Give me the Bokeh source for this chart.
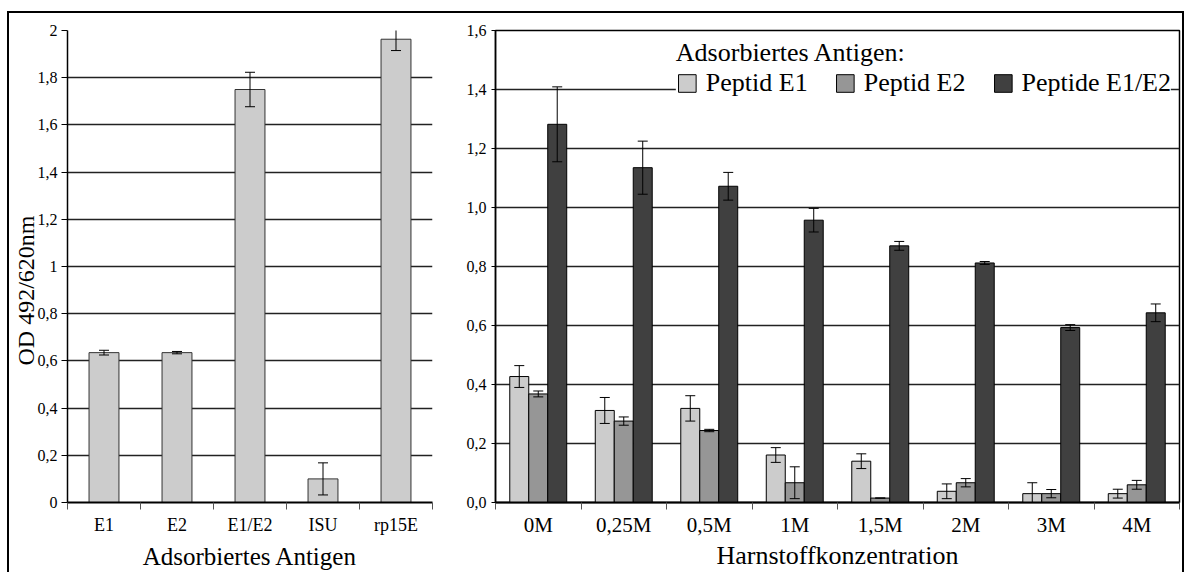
from bokeh.plotting import figure
from bokeh.models import (Range1d, FixedTicker, ColumnDataSource, Whisker, Legend,
                          LegendItem, TeeHead)
from bokeh.layouts import row
from bokeh.transform import dodge
from bokeh.embed import file_html
from bokeh.resources import INLINE

# ---------------- data ----------------
antigens = ["E1", "E2", "E1/E2", "ISU", "rp15E"]
antigen_od = [0.635, 0.635, 1.750, 0.100, 1.963]
antigen_err = [0.010, 0.005, 0.073, 0.068, 0.048]

urea = ["0M", "0,25M", "0,5M", "1M", "1,5M", "2M", "3M", "4M"]
pep_e1 = [0.427, 0.312, 0.319, 0.161, 0.140, 0.038, 0.030, 0.030]
pep_e1_err = [0.037, 0.044, 0.043, 0.025, 0.025, 0.025, 0.037, 0.015]
pep_e2 = [0.368, 0.276, 0.244, 0.067, 0.015, 0.067, 0.030, 0.060]
pep_e2_err = [0.010, 0.014, 0.004, 0.054, 0.000, 0.014, 0.014, 0.015]
pep_e12 = [1.282, 1.135, 1.072, 0.957, 0.870, 0.812, 0.593, 0.643]
pep_e12_err = [0.127, 0.090, 0.047, 0.040, 0.015, 0.005, 0.010, 0.030]

series_names = ["Peptid E1", "Peptid E2", "Peptide E1/E2"]
legend_title = "Adsorbiertes Antigen:"
y_label = "OD 492/620nm"

left_ticks = [0, 0.2, 0.4, 0.6, 0.8, 1, 1.2, 1.4, 1.6, 1.8, 2]
left_tick_labels = ["0", "0,2", "0,4", "0,6", "0,8", "1", "1,2", "1,4", "1,6", "1,8", "2"]
right_ticks = [0, 0.2, 0.4, 0.6, 0.8, 1.0, 1.2, 1.4, 1.6]
right_tick_labels = ["0,0", "0,2", "0,4", "0,6", "0,8", "1,0", "1,2", "1,4", "1,6"]

SERIF = "Liberation Serif"
NARROW = "Liberation Sans Narrow"

LIGHT = "#CCCCCC"
MID = "#969696"
DARK = "#404040"

# ---------------- left panel ----------------
n1 = len(antigens)
x1 = [i + 0.5 for i in range(n1)]
src1 = ColumnDataSource(dict(
    x=x1, od=antigen_od,
    upper=[v + e for v, e in zip(antigen_od, antigen_err)],
    lower=[v - e for v, e in zip(antigen_od, antigen_err)],
))

p1 = figure(width=431, height=559, x_range=Range1d(0, n1), y_range=Range1d(0, 2),
            output_backend="svg", toolbar_location=None,
            min_border_left=55, min_border_right=8, min_border_top=17, min_border_bottom=68)
p1.outline_line_color = None
p1.background_fill_color = "white"

p1.vbar(x="x", top="od", width=0.41, source=src1, fill_color=LIGHT,
        line_color="#333333", line_width=1)
w1 = Whisker(base="x", upper="upper", lower="lower", source=src1, level="overlay",
             line_color="black", line_width=1,
             upper_head=TeeHead(size=10, line_color="black", line_width=1),
             lower_head=TeeHead(size=10, line_color="black", line_width=1))
p1.add_layout(w1)

t1 = FixedTicker(ticks=x1, minor_ticks=list(range(n1 + 1)))
p1.xaxis.ticker = t1
p1.xaxis.major_label_overrides = {x: lab for x, lab in zip(x1, antigens)}
p1.xaxis.major_tick_line_color = None
p1.xaxis.major_tick_out = 7
p1.xaxis.major_tick_in = 0
p1.xaxis.minor_tick_out = 7
p1.xaxis.minor_tick_in = 0
p1.xaxis.minor_tick_line_color = "#555555"
p1.xaxis.axis_line_color = "black"
p1.xaxis.axis_line_width = 2
p1.xaxis.major_label_standoff = 5
p1.xaxis.major_label_text_font = SERIF
p1.xaxis.major_label_text_font_size = "18px"
p1.xaxis.major_label_text_color = "black"
p1.xaxis.axis_label = "Adsorbiertes Antigen"
p1.xaxis.axis_label_text_font = SERIF
p1.xaxis.axis_label_text_font_size = "25px"
p1.xaxis.axis_label_text_font_style = "normal"
p1.xaxis.axis_label_text_color = "black"
p1.xaxis.axis_label_standoff = 5
p1.xgrid.visible = False

yt1 = FixedTicker(ticks=left_ticks, minor_ticks=[])
p1.yaxis.ticker = yt1
p1.yaxis.major_label_overrides = {t: lab for t, lab in zip(left_ticks, left_tick_labels)}
p1.yaxis.major_tick_out = 6
p1.yaxis.major_tick_in = 0
p1.yaxis.minor_tick_line_color = None
p1.yaxis.axis_line_color = "black"
p1.yaxis.axis_line_width = 1.5
p1.yaxis.major_label_standoff = 4
p1.yaxis.major_label_text_font = SERIF
p1.yaxis.major_label_text_font_size = "16px"
p1.yaxis.major_label_text_color = "black"
# trailing no-break spaces move the centred label towards the bottom, as in the original
p1.yaxis.axis_label = y_label + "\u00a0" * 8
p1.yaxis.axis_label_text_font = SERIF
p1.yaxis.axis_label_text_font_size = "24px"
p1.yaxis.axis_label_text_font_style = "normal"
p1.yaxis.axis_label_text_color = "black"
p1.yaxis.axis_label_standoff = -4
p1.ygrid.ticker = yt1
p1.ygrid.grid_line_color = "#222222"
p1.ygrid.grid_line_width = 1.5

# ---------------- right panel ----------------
n2 = len(urea)
x2 = [i + 0.5 for i in range(n2)]
src2 = ColumnDataSource(dict(
    x=x2, e1=pep_e1, e2=pep_e2, e12=pep_e12,
    e1_up=[v + e for v, e in zip(pep_e1, pep_e1_err)],
    e1_lo=[v - e for v, e in zip(pep_e1, pep_e1_err)],
    e2_up=[v + e for v, e in zip(pep_e2, pep_e2_err)],
    e2_lo=[v - e for v, e in zip(pep_e2, pep_e2_err)],
    e12_up=[v + e for v, e in zip(pep_e12, pep_e12_err)],
    e12_lo=[v - e for v, e in zip(pep_e12, pep_e12_err)],
))

p2 = figure(width=742, height=559, x_range=Range1d(0, n2), y_range=Range1d(0, 1.6),
            output_backend="svg", toolbar_location=None,
            min_border_left=55, min_border_right=3, min_border_top=17, min_border_bottom=68)
p2.outline_line_color = "black"
p2.outline_line_width = 1.5

BW = 0.222
cols = [("e1", LIGHT, -BW), ("e2", MID, 0.0), ("e12", DARK, BW)]
bar_renderers = []
for key, color, off in cols:
    r = p2.vbar(x=dodge("x", off), top=key, width=BW, source=src2,
                fill_color=color, line_color="black", line_width=1)
    bar_renderers.append(r)
for key, color, off in cols:
    w = Whisker(base=dodge("x", off), upper=key + "_up", lower=key + "_lo", source=src2,
                level="overlay", line_color="black", line_width=1,
                upper_head=TeeHead(size=10, line_color="black", line_width=1),
                lower_head=TeeHead(size=10, line_color="black", line_width=1))
    p2.add_layout(w)

items = [LegendItem(label=name, renderers=[r]) for name, r in zip(series_names, bar_renderers)]
legend = Legend(items=items, orientation="horizontal", location="top_right",
                title=legend_title, title_text_font=SERIF, title_text_font_size="26px",
                title_text_font_style="normal", title_text_color="black", title_standoff=0,
                label_text_font=SERIF, label_text_font_size="26px", label_text_color="black",
                glyph_width=22, glyph_height=22, label_standoff=8, spacing=26,
                padding=15, margin=8, border_line_color=None,
                background_fill_color="white", background_fill_alpha=1.0)
p2.add_layout(legend)

t2 = FixedTicker(ticks=x2, minor_ticks=list(range(n2 + 1)))
p2.xaxis.ticker = t2
p2.xaxis.major_label_overrides = {x: lab for x, lab in zip(x2, urea)}
p2.xaxis.major_tick_line_color = None
p2.xaxis.major_tick_out = 7
p2.xaxis.major_tick_in = 0
p2.xaxis.minor_tick_out = 7
p2.xaxis.minor_tick_in = 0
p2.xaxis.minor_tick_line_color = "#555555"
p2.xaxis.axis_line_color = "black"
p2.xaxis.axis_line_width = 2
p2.xaxis.major_label_standoff = 3
p2.xaxis.major_label_text_font = SERIF
p2.xaxis.major_label_text_font_size = "21px"
p2.xaxis.major_label_text_color = "black"
p2.xaxis.axis_label = "Harnstoffkonzentration"
p2.xaxis.axis_label_text_font = SERIF
p2.xaxis.axis_label_text_font_size = "26px"
p2.xaxis.axis_label_text_font_style = "normal"
p2.xaxis.axis_label_text_color = "black"
p2.xaxis.axis_label_standoff = 1
p2.xgrid.visible = False

yt2 = FixedTicker(ticks=right_ticks, minor_ticks=[])
p2.yaxis.ticker = yt2
p2.yaxis.major_label_overrides = {t: lab for t, lab in zip(right_ticks, right_tick_labels)}
p2.yaxis.major_tick_out = 4
p2.yaxis.major_tick_in = 0
p2.yaxis.minor_tick_line_color = None
p2.yaxis.axis_line_color = "black"
p2.yaxis.axis_line_width = 1.5
p2.yaxis.major_label_standoff = 5
p2.yaxis.major_label_text_font = NARROW
p2.yaxis.major_label_text_font_size = "16px"
p2.yaxis.major_label_text_color = "black"
p2.ygrid.ticker = yt2
p2.ygrid.grid_line_color = "#222222"
p2.ygrid.grid_line_width = 1.5

layout = row(p1, p2, margin=(11, 0, 0, 7),
             styles={"border-top": "2px solid black", "border-left": "2px solid black",
                     "border-right": "2px solid black"})

open("out.html", "w").write(file_html(layout, INLINE))
